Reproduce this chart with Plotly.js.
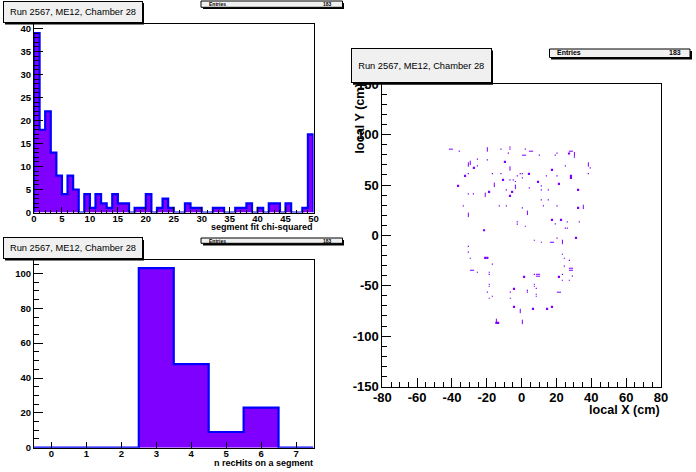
<!DOCTYPE html>
<html><head><meta charset="utf-8">
<script src="https://cdn.plot.ly/plotly-3.0.1.min.js"></script>
<style>html,body{margin:0;padding:0;background:#fff}#c{width:696px;height:472px}</style>
</head><body><div id="c"></div>
<script>
// Values
const chiCounts = [39,18,22,13,8,4,8,5,0,4,1,4,2,1,4,2,2,0,1,1,4,0,1,3,1,0,0,2,1,1,0,0,1,1,0,0,1,1,2,0,1,0,2,2,0,2,0,0,1,17];
const hitCounts = [0,0,0,103,48,9,23,0];
const dotX = [-35.8,-11.9,-6.7,-6.7,2.1,-7.6,10.2,19.3,20.3,30.3,-25.4,-19.7,-25.4,25.1,39.4,-30.6,-16.8,-11.9,-0.8,0.4,-2.5,14.2,20.3,38.3,0.4,-6.7,-4.8,-3.6,11.3,4.4,11.3,15.3,-8.8,-30.6,-27.7,11.3,15.3,-33.5,-12.8,-8.8,12.5,20.3,0.4,-2.5,26.2,33.1,-2.5,19.3,2.1,25.1,26.2,7.3,11.3,20.3,-30.6,-30.6,23.4,-29.5,24.5,27.4,-16.8,24.5,-25.4,-18.6,-18.6,7.3,23.4,29.1,23.4,27.4,7.3,7.3,-18.6,-18.6,8.4,3.3,3.3,-19.7,-6.5,8.4,8.4,-16.8,-18.6,-6.5];
const dotY = [83.6,85.6,87.6,85.6,85.6,81.6,79.6,79.6,81.6,77.7,75.7,75,69,69,67,61.4,61.4,61.4,61.4,61.4,59.1,59.1,59.1,61.4,57.1,55.2,55.2,53.5,49.2,47.2,45.2,45.2,45.2,41.2,41.2,35.3,35.3,29.3,29.3,29.3,29.3,29.3,27.3,13.4,13.4,13.4,11.1,11.5,9.1,7.2,7.2,-4.8,-6.8,-2.8,-10.8,-16.7,-18.7,-22.7,-22.7,-24.7,-28.6,-30.6,-36.6,-36.6,-38.6,-38.6,-38.6,-40.5,-44.5,-44.5,-48.5,-50.5,-48.5,-50.5,-52.5,-54.5,-56.4,-56.4,-56.4,-58.4,-60.4,-60.4,-62.4,-62.4];
const tallX = [-19.7,30.3,-29.5,-30.6,-6.7,38.3,-15.7,-3.6,-20.9,35.4,3.3,-30.6,23.4,-0.8,-14.5,0.4];
const tallY = [85.3,80.6,72,70.4,66.4,70.4,50.2,48.2,40.3,28.3,22.4,20.4,-6.5,-75,-84.9,-85.9];
const wideX = [-40.6,5.4,1.4,28.3,17.4,28.3,28.3,-28.5,9.4,9.4,21.4];
const wideY = [85.6,83.6,79.6,83.6,-6.8,-32.6,-34.6,-34.6,-38.6,-40.5,-56.4];
const bigX = [27.2,-9.6,-27.4,17.4,-32.5,4.2,28.3,28.3,-10.7,9.4,21.4,-36.5,32.4,-18.7,-5.5,-6.7,32.4,17.4,22.6,-21.6,31.2,-20.9,-19.7,1.4,21.4,-4.4,-4.4,6.5,14.6,17.4,-14.5,-13.5];
const bigY = [81.3,73,67,65,59.1,61.1,59.1,57.1,55.2,53.2,51.2,49.2,45.2,43.2,43.2,39.3,27.3,15.4,15.4,5.1,-2.5,-22.3,-22.3,-41.2,-41.2,-53.1,-71,-73,-73,-71,-86.9,-86.9];
const mapXTicks = [-80,-60,-40,-20,0,20,40,60,80];
const mapXLabels = ['-80','-60','-40','-20','0','20','40','60','80'];
const mapYTicks = [-150,-100,-50,0,50,100,150];
const mapYLabels = ['-150','-100','-50','0','50','100','150'];
const titleText = 'Run 2567, ME12, Chamber 28';
const entriesText = 'Entries';
const entriesValue = '183';

const FONT = 'Liberation Sans, Arial, sans-serif';
const PURPLE = '#7f00ff', BLUE = '#0000ff';
const px = x => x/696, py = y => 1 - y/472;

function stepTrace(counts, lo, xa, ya){
  const edges = counts.concat([0]).map((_, i) => lo + i);
  return {
    type:'scatter', mode:'lines', xaxis:xa, yaxis:ya,
    x:[lo].concat(edges, [edges[edges.length-1]]),
    y:[0].concat(counts, [counts[counts.length-1], 0]),
    line:{shape:'hv', color:BLUE, width:2.2}, fill:'tozeroy', fillcolor:PURPLE, hoverinfo:'skip'
  };
}
function pointTrace(x, y, symbol, size, lw){
  return {type:'scatter', mode:'markers', xaxis:'x3', yaxis:'y3', x, y, hoverinfo:'skip',
    marker:{symbol, size, color:PURPLE, line:{color:PURPLE, width:lw}}};
}
const traces = [
  stepTrace(chiCounts, 0, 'x', 'y'),
  stepTrace(hitCounts, -0.5, 'x2', 'y2'),
  pointTrace(dotX, dotY, 'square', 1.2, 0),
  pointTrace(tallX, tallY, 'line-ns', 3.2, 1),
  pointTrace(wideX, wideY, 'line-ew', 3, 1),
  pointTrace(bigX, bigY, 'square', 2.2, 0)
];
function axis(o){
  return Object.assign({
    showgrid:false, zeroline:false, showline:true, mirror:true, linecolor:'#000', linewidth:1,
    ticks:'inside', tickcolor:'#000', tickwidth:1, automargin:false, fixedrange:true,
    tickfont:{family:FONT, size:o.fs, color:'#000', weight:'bold'}
  }, o.a);
}
const box = (x0,y0,x1,y1) => ({xref:'paper',yref:'paper',type:'rect',x0:px(x0),x1:px(x1),y0:py(y1),y1:py(y0),
  fillcolor:'#000',line:{width:0},layer:'above'});
const statBox = (x0,y0,x1,y1) => ({xref:'paper',yref:'paper',type:'rect',x0:px(x0),x1:px(x1),y0:py(y1),y1:py(y0),
  fillcolor:'#f0f0f0',line:{color:'#000',width:1},layer:'above'});
const txt = (text,x,y,size,o) => Object.assign({text,xref:'paper',yref:'paper',x:px(x),y:py(y),showarrow:false,
  font:{family:FONT,size,color:'#000'},xanchor:'left',yanchor:'middle'},o||{});
const bold = (s) => ({family:FONT,size:s,color:'#000',weight:'bold'});
const titleBox = (x0,y0,x1,y1,size) => txt(titleText,(x0+x1)/2,(y0+y1)/2,size,{
  xanchor:'center',width:x1-x0-1,height:y1-y0-1,bgcolor:'#f0f0f0',bordercolor:'#000',borderwidth:1,borderpad:0,
  font:{family:FONT,size,color:'#000'}
});

const layout = {
  width:696, height:472, margin:{l:0,r:0,t:0,b:0}, paper_bgcolor:'#fff', plot_bgcolor:'#fff', showlegend:false, hovermode:false,
  xaxis:axis({fs:9.5,a:{domain:[px(34),px(313.5)],range:[0,50],anchor:'y',tickmode:'linear',tick0:0,dtick:5,ticklen:6,ticklabelstandoff:-3,
    minor:{ticks:'inside',ticklen:3,dtick:1,tick0:0,tickcolor:'#000',showgrid:false}}}),
  yaxis:axis({fs:9.5,a:{domain:[py(212.5),py(23.5)],range:[0,41.1],anchor:'x',tickmode:'linear',tick0:0,dtick:5,ticklen:9,
    minor:{ticks:'inside',ticklen:4.5,dtick:1,tick0:0,tickcolor:'#000',showgrid:false}}}),
  xaxis2:axis({fs:9.5,a:{domain:[px(34),px(313.5)],range:[-0.5,7.5],anchor:'y2',tickmode:'linear',tick0:0,dtick:1,ticklen:6,ticklabelstandoff:-3}}),
  yaxis2:axis({fs:9.5,a:{domain:[py(447.7),py(259.5)],range:[0,108],anchor:'x2',tickmode:'linear',tick0:0,dtick:20,ticklen:9,
    minor:{ticks:'inside',ticklen:4.5,dtick:5,tick0:0,tickcolor:'#000',showgrid:false}}}),
  xaxis3:axis({fs:13,a:{domain:[px(382.3),px(661)],range:[-80,80],anchor:'y3',tickmode:'array',tickvals:mapXTicks,ticktext:mapXLabels,ticklen:9,ticklabelstandoff:-1,
    minor:{ticks:'inside',ticklen:4.5,dtick:5,tick0:0,tickcolor:'#000',showgrid:false}}}),
  yaxis3:axis({fs:13,a:{domain:[py(386.5),py(84.3)],range:[-150,150],anchor:'x3',tickmode:'array',tickvals:mapYTicks,ticktext:mapYLabels,ticklen:9,
    minor:{ticks:'inside',ticklen:4.5,dtick:10,tick0:0,tickcolor:'#000',showgrid:false}}}),
  shapes:[
    box(5,3,144,24.5), box(5,240,144,260.5), box(353,50.5,493,84.7),
    box(203,3,344,9), box(203,240,344,245.5), box(551,51,692,59.5),
    statBox(201,1,342.5,7.3), statBox(201,238,342.5,243.3), statBox(549.5,49,690,57.5)
  ],
  annotations:[
    txt('local Y (cm)',359.5,155,12.6,{font:bold(12.6),textangle:-90,xanchor:'center',yanchor:'bottom'}),
    titleBox(3.5,1.5,142.5,22.5,9.3), titleBox(3.5,238,142.5,258.5,9.3), titleBox(351.5,48.5,491,82.5,9.3),
    txt('segment fit chi-squared',314.5,227,9,{font:bold(9),xanchor:'right'}),
    txt('n recHits on a segment',314.5,463,9,{font:bold(9),xanchor:'right'}),
    txt('local X (cm)',662,410,12.6,{font:bold(12.6),xanchor:'right'}),
    txt(entriesText,207,4.2,5,{font:bold(5)}), txt(entriesValue,334,4.2,5,{font:bold(5),xanchor:'right'}),
    txt(entriesText,207,240.7,5,{font:bold(5)}), txt(entriesValue,334,240.7,5,{font:bold(5),xanchor:'right'}),
    txt(entriesText,555,52.8,7,{font:bold(7)}), txt(entriesValue,683,52.8,7,{font:bold(7),xanchor:'right'})
  ]
};
Plotly.newPlot('c', traces, layout, {staticPlot:true, displayModeBar:false});
</script></body></html>
